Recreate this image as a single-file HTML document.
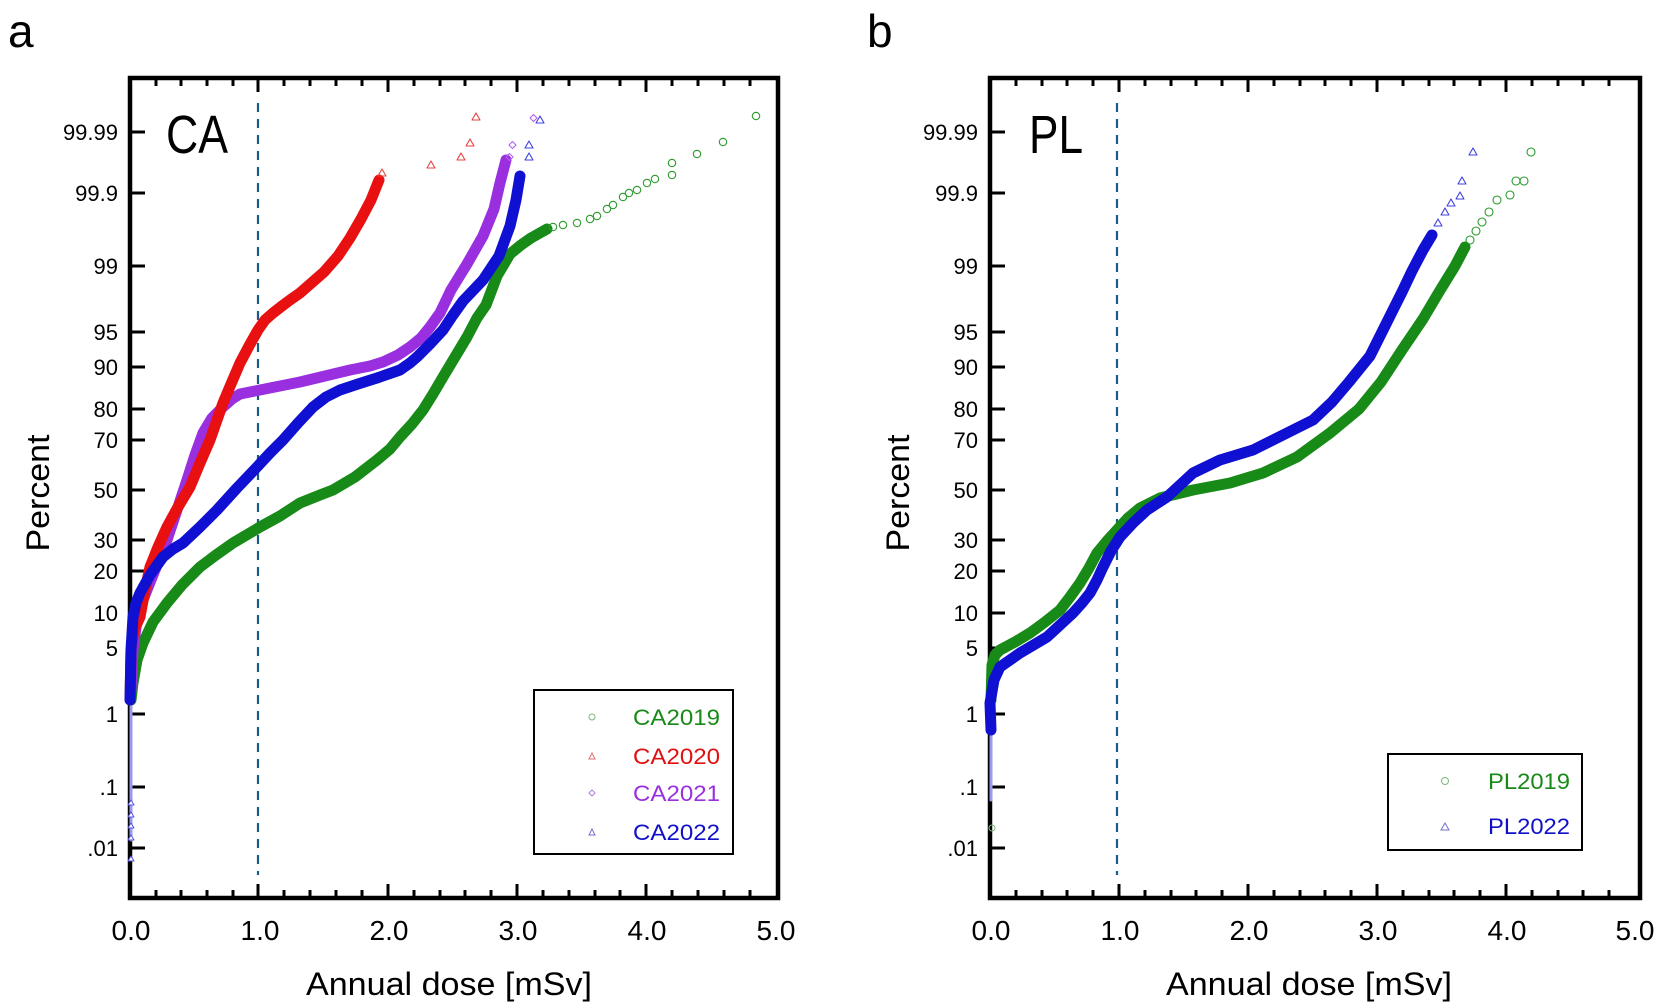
<!DOCTYPE html>
<html><head><meta charset="utf-8"><style>
html,body{margin:0;padding:0;background:#fff;}
svg{display:block;font-family:"Liberation Sans",Arial,sans-serif;}
</style></head><body>
<svg width="1665" height="1008" viewBox="0 0 1665 1008" xmlns="http://www.w3.org/2000/svg">
<rect width="1665" height="1008" fill="#fff"/>
<text x="8" y="47" font-size="46">a</text>
<text x="867" y="47" font-size="46">b</text>

<!-- ===== Panel A ===== -->
<g id="pa">
<rect x="130" y="78" width="648" height="820" fill="none" stroke="#000" stroke-width="4.5"/>
<g stroke="#000" stroke-width="3">
<path d="M130,132h15M130,193h15M130,266h15M130,332h15M130,367h15M130,409h15M130,440h15M130,490h15M130,540h15M130,571h15M130,613h15M130,648h15M130,714h15M130,787h15M130,848h15"/>
<path d="M258,898v-14M388,898v-14M517,898v-14M646,898v-14M258,78v14M388,78v14M517,78v14M646,78v14"/>
<path d="M156,898v-8M181,898v-8M207,898v-8M233,898v-8M284,898v-8M310,898v-8M336,898v-8M362,898v-8M414,898v-8M440,898v-8M465,898v-8M491,898v-8M543,898v-8M569,898v-8M595,898v-8M620,898v-8M672,898v-8M698,898v-8M724,898v-8M750,898v-8"/>
<path d="M156,78v8M181,78v8M207,78v8M233,78v8M284,78v8M310,78v8M336,78v8M362,78v8M414,78v8M440,78v8M465,78v8M491,78v8M543,78v8M569,78v8M595,78v8M620,78v8M672,78v8M698,78v8M724,78v8M750,78v8"/>
</g>
<g font-size="22" text-anchor="end">
<text x="118" y="140">99.99</text><text x="118" y="201">99.9</text><text x="118" y="274">99</text>
<text x="118" y="340">95</text><text x="118" y="375">90</text><text x="118" y="417">80</text>
<text x="118" y="448">70</text><text x="118" y="498">50</text><text x="118" y="548">30</text>
<text x="118" y="579">20</text><text x="118" y="621">10</text><text x="118" y="656">5</text>
<text x="118" y="722">1</text><text x="118" y="795">.1</text><text x="118" y="856">.01</text>
</g>
<g font-size="28" text-anchor="middle">
<text x="131" y="940">0.0</text><text x="260" y="940">1.0</text><text x="389" y="940">2.0</text>
<text x="518" y="940">3.0</text><text x="647" y="940">4.0</text><text x="776" y="940">5.0</text>
</g>
<text x="449" y="995" font-size="32" text-anchor="middle" textLength="286" lengthAdjust="spacingAndGlyphs">Annual dose [mSv]</text>
<text transform="translate(49,493) rotate(-90)" font-size="32" text-anchor="middle" textLength="117" lengthAdjust="spacingAndGlyphs">Percent</text>
<text x="166" y="153" font-size="54" textLength="62" lengthAdjust="spacingAndGlyphs">CA</text>
<line x1="258" y1="103" x2="258" y2="875" stroke="#1a5a85" stroke-width="2.2" stroke-dasharray="9,7"/>

<g fill="none" stroke-linejoin="round" stroke-linecap="round">
<line x1="131" y1="690" x2="131" y2="840" stroke="#9a9af0" stroke-width="3"/>
<g stroke="#5050e0" stroke-width="1" fill="#fff">
<path d="M128,805l3,-5l3,5z M128,817l3,-5l3,5z M128,828l3,-5l3,5z M128,840l3,-5l3,5z M128,861l3,-5l3,5z"/>
</g>
<!-- green -->
<polyline stroke="#178a17" stroke-width="11" points="131,700 133,683 137,660 143,643 153,622 167,603 182,585 200,567 216,555 233,543 260,527 280,516 300,503 320,495 333,490 355,477 377,460 390,449 400,437 412,424 423,410 433,394 443,377 455,357 467,337 477,318 486,305 497,276 510,254 521,245 531,238 547,229"/>
<g stroke="#2a9a2a" stroke-width="1.1">
<circle cx="553" cy="227" r="3.7"/><circle cx="563" cy="225" r="3.7"/><circle cx="577" cy="223" r="3.7"/><circle cx="590" cy="219" r="3.7"/><circle cx="597" cy="216" r="3.7"/><circle cx="607" cy="209" r="3.7"/><circle cx="613" cy="205" r="3.7"/><circle cx="623" cy="197" r="3.7"/><circle cx="629" cy="193" r="3.7"/><circle cx="637" cy="190" r="3.7"/><circle cx="647" cy="183" r="3.7"/><circle cx="655" cy="179" r="3.7"/><circle cx="672" cy="175" r="3.7"/><circle cx="672" cy="163" r="3.7"/><circle cx="697" cy="154" r="3.7"/><circle cx="723" cy="142" r="3.7"/><circle cx="756" cy="116" r="3.7"/>
</g>
<!-- purple -->
<polyline stroke="#9a2fe0" stroke-width="11" points="131,690 133,650 137,620 143,600 155,570 167,540 177,510 187,480 195,455 203,433 212,418 223,407 232,399 240,394 260,390 280,386 300,382 325,376 350,370 370,366 383,362 398,355 410,347 421,338 430,327 440,313 451,290 467,264 483,236 494,209 500,183 506,160"/>
<g stroke="#b060f0" stroke-width="1.1"><path d="M506,157l3.5,-3.5l3.5,3.5l-3.5,3.5z M509,145l3.5,-3.5l3.5,3.5l-3.5,3.5z M530,118l3.5,-3.5l3.5,3.5l-3.5,3.5z"/></g>
<!-- red -->
<polyline stroke="#e81010" stroke-width="11" points="130,700 131,650 134,630 140,617 145,590 150,567 158,547 167,527 178,507 190,487 200,463 210,440 217,420 223,403 231,384 240,363 249,346 258,330 265,320 273,313 282,306 290,300 300,293 308,286 324,272 338,256 350,238 361,219 371,200 379,180"/>
<g stroke="#e84040" stroke-width="1.1"><path d="M378,176l4,-7l4,7z M427,168l4,-7l4,7z M457,160l4,-7l4,7z M466,146l4,-7l4,7z M472,120l4,-7l4,7z"/></g>
<!-- blue -->
<polyline stroke="#1010d2" stroke-width="11" points="130,700 131,650 133,617 136,603 140,593 150,575 163,557 173,549 183,543 200,527 217,510 237,488 257,467 270,453 283,440 298,423 313,407 326,397 340,390 358,384 377,378 400,370 410,363 417,357 430,344 443,330 453,315 463,301 483,280 499,256 510,226 516,200 520,176"/>
<g stroke="#4040e0" stroke-width="1.1"><path d="M525,160l4,-7l4,7z M525,148l4,-7l4,7z M536,123l4,-7l4,7z"/></g>
</g>

<!-- legend a -->
<rect x="534" y="690" width="199" height="164" fill="#fff" stroke="#000" stroke-width="2"/>
<circle cx="592" cy="717" r="3" fill="none" stroke="#7ab87a" stroke-width="1"/>
<path d="M589,759l3,-6l3,6z" fill="none" stroke="#e07070" stroke-width="1"/>
<path d="M592,790l3,3l-3,3l-3,-3z" fill="none" stroke="#b080e0" stroke-width="1"/>
<path d="M589,835l3,-6l3,6z" fill="none" stroke="#7070d0" stroke-width="1"/>
<g font-size="22">
<text x="633" y="725" fill="#178a17" textLength="87" lengthAdjust="spacingAndGlyphs">CA2019</text>
<text x="633" y="764" fill="#e01010" textLength="87" lengthAdjust="spacingAndGlyphs">CA2020</text>
<text x="633" y="801" fill="#9a2fe0" textLength="87" lengthAdjust="spacingAndGlyphs">CA2021</text>
<text x="633" y="840" fill="#1010c8" textLength="87" lengthAdjust="spacingAndGlyphs">CA2022</text>
</g>
</g>

<!-- ===== Panel B ===== -->
<g id="pb">
<rect x="990" y="78" width="650" height="820" fill="none" stroke="#000" stroke-width="4.5"/>
<g stroke="#000" stroke-width="3">
<path d="M990,132h15M990,193h15M990,266h15M990,332h15M990,367h15M990,409h15M990,440h15M990,490h15M990,540h15M990,571h15M990,613h15M990,648h15M990,714h15M990,787h15M990,848h15"/>
<path d="M1119,898v-14M1248,898v-14M1377,898v-14M1506,898v-14M1119,78v14M1248,78v14M1377,78v14M1506,78v14"/>
<path d="M1016,898v-8M1042,898v-8M1067,898v-8M1093,898v-8M1145,898v-8M1171,898v-8M1196,898v-8M1222,898v-8M1274,898v-8M1300,898v-8M1325,898v-8M1351,898v-8M1403,898v-8M1429,898v-8M1454,898v-8M1480,898v-8M1532,898v-8M1558,898v-8M1583,898v-8M1609,898v-8"/>
<path d="M1016,78v8M1042,78v8M1067,78v8M1093,78v8M1145,78v8M1171,78v8M1196,78v8M1222,78v8M1274,78v8M1300,78v8M1325,78v8M1351,78v8M1403,78v8M1429,78v8M1454,78v8M1480,78v8M1532,78v8M1558,78v8M1583,78v8M1609,78v8"/>
</g>
<g font-size="22" text-anchor="end">
<text x="978" y="140">99.99</text><text x="978" y="201">99.9</text><text x="978" y="274">99</text>
<text x="978" y="340">95</text><text x="978" y="375">90</text><text x="978" y="417">80</text>
<text x="978" y="448">70</text><text x="978" y="498">50</text><text x="978" y="548">30</text>
<text x="978" y="579">20</text><text x="978" y="621">10</text><text x="978" y="656">5</text>
<text x="978" y="722">1</text><text x="978" y="795">.1</text><text x="978" y="856">.01</text>
</g>
<g font-size="28" text-anchor="middle">
<text x="991" y="940">0.0</text><text x="1120" y="940">1.0</text><text x="1249" y="940">2.0</text>
<text x="1378" y="940">3.0</text><text x="1507" y="940">4.0</text><text x="1635" y="940">5.0</text>
</g>
<text x="1309" y="995" font-size="32" text-anchor="middle" textLength="286" lengthAdjust="spacingAndGlyphs">Annual dose [mSv]</text>
<text transform="translate(909,493) rotate(-90)" font-size="32" text-anchor="middle" textLength="117" lengthAdjust="spacingAndGlyphs">Percent</text>
<text x="1029" y="153" font-size="54" textLength="54" lengthAdjust="spacingAndGlyphs">PL</text>
<line x1="1117" y1="103" x2="1117" y2="875" stroke="#1a5a85" stroke-width="2.2" stroke-dasharray="9,7"/>

<g fill="none" stroke-linejoin="round" stroke-linecap="round">
<line x1="991" y1="700" x2="991" y2="800" stroke="#9a9af0" stroke-width="3"/>
<circle cx="992" cy="828" r="3" stroke="#7ab87a" stroke-width="1"/>
<!-- green -->
<polyline stroke="#178a17" stroke-width="11" points="991,700 992,665 995,655 1000,650 1015,642 1030,633 1045,622 1060,610 1070,597 1080,583 1089,568 1097,553 1107,541 1117,530 1128,518 1140,508 1160,498 1193,490 1230,483 1263,473 1297,457 1330,433 1359,409 1381,382 1402,350 1423,319 1439,292 1455,266 1465,247"/>
<g stroke="#2a9a2a" stroke-width="1.1">
<circle cx="1470" cy="240" r="4"/><circle cx="1476" cy="231" r="4"/><circle cx="1482" cy="222" r="4"/><circle cx="1489" cy="212" r="4"/><circle cx="1497" cy="200" r="4"/><circle cx="1510" cy="195" r="4"/><circle cx="1516" cy="181" r="4"/><circle cx="1524" cy="181" r="4"/><circle cx="1531" cy="152" r="4"/>
</g>
<!-- blue -->
<polyline stroke="#1010d2" stroke-width="11" points="991,730 990,703 994,680 1000,667 1020,653 1047,637 1060,625 1073,613 1082,603 1090,593 1097,580 1103,567 1111,551 1120,537 1133,523 1147,510 1167,497 1193,473 1220,460 1253,450 1287,433 1313,420 1332,402 1349,382 1370,356 1386,324 1402,292 1412,271 1423,250 1432,235"/>
<g stroke="#4040e0" stroke-width="1.1"><path d="M1434,226l4,-7l4,7z M1441,215l4,-7l4,7z M1447,206l4,-7l4,7z M1456,199l4,-7l4,7z M1458,184l4,-7l4,7z M1469,155l4,-7l4,7z"/></g>
</g>

<!-- legend b -->
<rect x="1388" y="754" width="194" height="96" fill="#fff" stroke="#000" stroke-width="2"/>
<circle cx="1445" cy="781" r="3.5" fill="none" stroke="#7ab87a" stroke-width="1"/>
<path d="M1441,830l4,-7l4,7z" fill="none" stroke="#7070d0" stroke-width="1"/>
<g font-size="22">
<text x="1488" y="789" fill="#178a17" textLength="82" lengthAdjust="spacingAndGlyphs">PL2019</text>
<text x="1488" y="834" fill="#1010c8" textLength="82" lengthAdjust="spacingAndGlyphs">PL2022</text>
</g>
</g>
</svg>
</body></html>
